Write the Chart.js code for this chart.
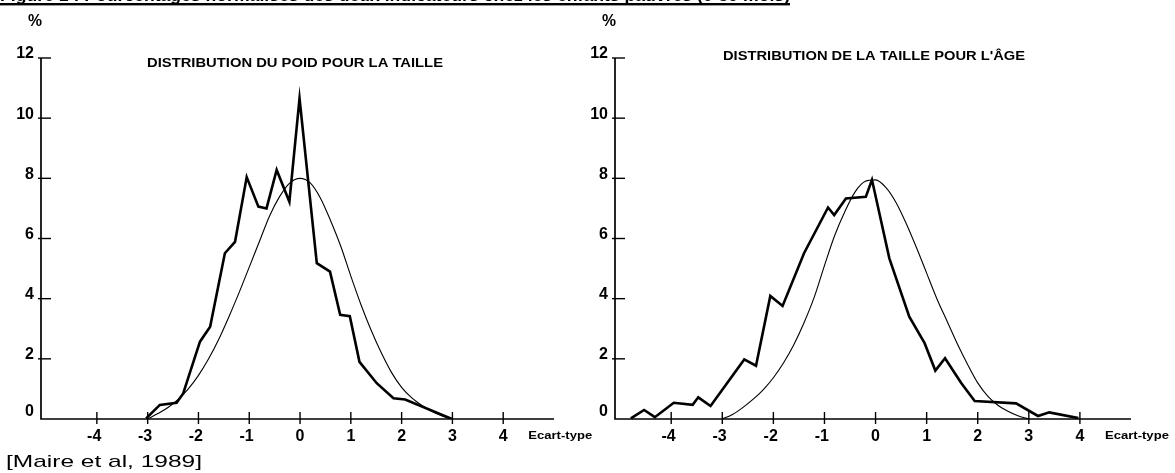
<!DOCTYPE html>
<html><head><meta charset="utf-8">
<script src="https://cdn.jsdelivr.net/npm/chart.js@4"></script>
<style>
html,body{margin:0;padding:0;background:#fff;width:1175px;height:473px;overflow:hidden}
canvas{position:absolute;left:0;top:0}
</style></head>
<body>
<canvas id="c1" width="1175" height="473"></canvas>
<canvas id="c2" width="1175" height="473"></canvas>
<script>
// ---- data ----
const xTickValues = [-4,-3,-2,-1,0,1,2,3,4];
const yTickValues = [0,2,4,6,8,10,12];
const axisLabelX = "Ecart-type";
const axisLabelY = "%";
const titleLeft = "DISTRIBUTION DU POID POUR LA TAILLE";
const titleRight = "DISTRIBUTION DE LA TAILLE POUR L'ÂGE";
const sourceNote = "[Maire et al, 1989]";
const figureTitle = "Figure 1 : Pourcentages normalisés des deux indicateurs chez les enfants pauvres (0-59 mois)";

const normX = [-3.0,-2.8,-2.6,-2.4,-2.2,-2.0,-1.8,-1.6,-1.4,-1.2,-1.0,-0.8,-0.6,-0.4,-0.2,0.0,0.2,0.4,0.6,0.8,1.0,1.2,1.4,1.6,1.8,2.0,2.2,2.4,2.6,2.8,3.0];

// Poids pour la taille
const poidObsX = [-3.03,-2.76,-2.43,-2.30,-2.17,-1.97,-1.77,-1.48,-1.28,-1.05,-0.82,-0.66,-0.46,-0.21,-0.01,0.33,0.59,0.79,0.98,1.17,1.51,1.84,2.07,2.99];
const poidObsY = [0.02,0.47,0.54,0.85,1.53,2.57,3.07,5.51,5.89,8.04,7.06,7.00,8.28,7.22,10.66,5.18,4.90,3.46,3.42,1.90,1.19,0.69,0.65,0.00];
const poidNormY = [0,0.18,0.38,0.65,1.0,1.45,2.0,2.65,3.4,4.2,5.05,5.9,6.75,7.4,7.85,8.0,7.85,7.35,6.6,5.75,4.75,3.8,2.95,2.2,1.55,1.05,0.7,0.45,0.25,0.1,0];

// Taille pour l'age
const tailleObsX = [-4.79,-4.53,-4.32,-3.95,-3.58,-3.47,-3.23,-2.57,-2.34,-2.06,-1.82,-1.40,-0.93,-0.81,-0.58,-0.19,-0.07,0.27,0.66,0.96,1.17,1.36,1.68,1.94,2.75,3.18,3.40,3.97];
const tailleObsY = [0.02,0.30,0.06,0.54,0.47,0.72,0.43,1.98,1.77,4.09,3.76,5.51,7.03,6.78,7.33,7.39,7.95,5.34,3.40,2.52,1.61,2.02,1.19,0.60,0.52,0.10,0.22,0.03];
const tailleNormY = [0,0.15,0.38,0.65,0.97,1.37,1.87,2.47,3.2,4.05,5.1,6.1,6.9,7.55,7.9,7.95,7.7,7.2,6.5,5.7,4.85,4.0,3.25,2.5,1.82,1.2,0.75,0.45,0.25,0.1,0];

const FONT = '"Liberation Sans", Arial, Helvetica, sans-serif';

function pts(xs, ys){ return xs.map((x,i)=>({x:x, y:ys[i]})); }

function fitText(ctx, text, x, y, w, font, align){
  ctx.font = font;
  const m = ctx.measureText(text).width;
  ctx.save();
  ctx.textAlign = 'left';
  ctx.textBaseline = 'middle';
  const sx = w / m;
  let x0 = x;
  if (align === 'center') x0 = x - w/2;
  ctx.translate(x0, y);
  ctx.scale(sx, 1);
  ctx.fillText(text, 0, 0);
  ctx.restore();
}

const decoPlugin = {
  id: 'deco',
  afterDraw(chart, args, o){
    const ctx = chart.ctx, xs = chart.scales.x, ys = chart.scales.y, a = chart.chartArea;
    ctx.save();
    ctx.strokeStyle = '#000'; ctx.fillStyle = '#000';
    // axes
    ctx.lineWidth = 1.7;
    ctx.beginPath();
    ctx.moveTo(a.left, ys.getPixelForValue(12));
    ctx.lineTo(a.left, a.bottom);
    ctx.lineTo(a.right, a.bottom);
    ctx.stroke();
    ctx.lineWidth = 1.4;
    // y ticks
    yTickValues.forEach(v => {
      const py = ys.getPixelForValue(v);
      if (v > 0) {
        ctx.beginPath(); ctx.moveTo(a.left-3, py); ctx.lineTo(a.left+10, py); ctx.stroke();
      }
      ctx.font = 'bold 16px ' + FONT;
      ctx.textAlign = 'right'; ctx.textBaseline = 'middle';
      ctx.fillText(String(v), a.left - 7, py - (v===0 ? 7 : 4));
    });
    // x ticks
    xTickValues.forEach(v => {
      const px = xs.getPixelForValue(v);
      ctx.beginPath(); ctx.moveTo(px, a.bottom-7); ctx.lineTo(px, a.bottom+5); ctx.stroke();
      ctx.font = 'bold 16px ' + FONT;
      const dw = ctx.measureText(String(Math.abs(v))).width;
      const label = v < 0 ? '-' + Math.abs(v) : String(v);
      ctx.textAlign = 'right'; ctx.textBaseline = 'middle';
      ctx.fillText(label, px + dw/2, a.bottom + 18);
    });
    // axis names
    fitText(ctx, axisLabelX, xs.getPixelForValue(4) + 25, a.bottom + 17, 64, 'bold 11px ' + FONT);
    fitText(ctx, axisLabelY, a.left - 6, 22, 14, 'bold 16px ' + FONT, 'center');
    // title
    fitText(ctx, o.title, o.tx, o.ty, o.tw, 'bold 12px ' + FONT);
    if (o.extra) {
      fitText(ctx, sourceNote, 6, 462, 196, '17px ' + FONT);
      // cropped figure title at the very top
      ctx.font = 'bold 16px ' + FONT;
      const m = ctx.measureText(figureTitle).width;
      ctx.save();
      ctx.scale(790/m, 1);
      ctx.textAlign = 'left'; ctx.textBaseline = 'alphabetic';
      ctx.fillText(figureTitle, 0, 1);
      ctx.restore();
      ctx.fillRect(0, 3, 790, 2.4);
    }
    ctx.restore();
  }
};

function makeChart(id, obsX, obsY, normY, pad, deco){
  return new Chart(document.getElementById(id), {
    type: 'line',
    data: {
      datasets: [
        { data: pts(obsX, obsY), borderColor: '#000', borderWidth: 2.6, pointRadius: 0, tension: 0, fill: false },
        { data: pts(normX, normY), borderColor: '#000', borderWidth: 1.1, pointRadius: 0, tension: 0.4, cubicInterpolationMode: 'monotone', fill: false }
      ]
    },
    options: {
      responsive: false, animation: false, events: [],
      layout: { padding: pad },
      plugins: { legend: {display:false}, tooltip: {enabled:false}, title: {display:false}, deco: deco },
      scales: {
        x: { type: 'linear', min: -5.1, max: 5.0, display: false },
        y: { type: 'linear', min: 0, max: 12, display: false }
      }
    },
    plugins: [decoPlugin]
  });
}

makeChart('c1', poidObsX, poidObsY, poidNormY,
  {left: 41, top: 58, right: 1175-554, bottom: 473-419},
  {title: titleLeft, tx: 147, ty: 64, tw: 296, extra: true});
makeChart('c2', tailleObsX, tailleObsY, tailleNormY,
  {left: 615, top: 58, right: 1175-1131, bottom: 473-419},
  {title: titleRight, tx: 723, ty: 57, tw: 302, extra: false});
</script>
</body></html>
